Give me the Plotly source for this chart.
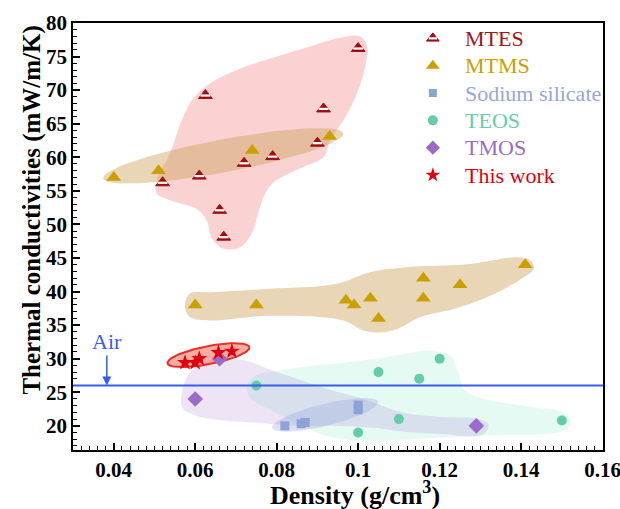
import numpy as np
import plotly.graph_objects as go

# ---------------- data ----------------
mtes_x = [0.100, 0.0625, 0.0915, 0.090, 0.079, 0.072, 0.061, 0.052, 0.066, 0.067]
mtes_y = [76.2, 69.2, 67.2, 62.1, 60.1, 59.1, 57.2, 56.2, 52.1, 48.1]

mtms_x = [0.040, 0.051, 0.074, 0.093, 0.060, 0.075, 0.097, 0.099, 0.103, 0.105, 0.116, 0.116, 0.125, 0.141]
mtms_y = [57.0, 58.0, 61.0, 63.1, 38.0, 38.0, 38.7, 38.0, 39.0, 36.0, 42.0, 39.0, 41.0, 44.0]

sod_x = [0.082, 0.086, 0.087, 0.100, 0.100]
sod_y = [20.0, 20.3, 20.5, 22.4, 23.1]

teos_x = [0.075, 0.100, 0.105, 0.115, 0.120, 0.110, 0.150]
teos_y = [26.0, 19.0, 28.0, 27.0, 30.0, 21.0, 20.8]

tmos_x = [0.060, 0.066, 0.129]
tmos_y = [24.0, 30.0, 20.0]

work_x = [0.0575, 0.060, 0.061, 0.0657, 0.069]
work_y = [29.4, 29.4, 30.0, 30.9, 31.1]

air_value = 26

series_names = ["MTES", "MTMS", "Sodium silicate", "TEOS", "TMOS", "This work"]
x_title = "<b>Density (g/cm<sup>3</sup>)</b>"
y_title = "<b>Thermal conductivities (mW/m/K)</b>"

# shaded regions (data coordinates)
pink_blob_x = [0.1005, 0.1022, 0.1017, 0.0997, 0.0964, 0.0931, 0.0915, 0.0866, 0.0800, 0.0776, 0.0759,
               0.0739, 0.0710, 0.0669, 0.0641, 0.0628, 0.0604, 0.0538, 0.0506, 0.0506, 0.0538, 0.0567,
               0.0592, 0.0629, 0.0702, 0.0800, 0.0882, 0.0948]
pink_blob_y = [78.0, 76.5, 73.5, 69.5, 65.5, 62.5, 60.0, 58.6, 56.6, 55.1, 52.6,
               48.7, 46.6, 46.4, 47.9, 50.6, 52.3, 53.6, 54.6, 56.6, 60.6, 65.5,
               68.5, 70.7, 73.0, 75.0, 76.5, 77.7]

tan_blob_x = [0.0575, 0.0587, 0.0637, 0.0784, 0.0948, 0.1030, 0.1112, 0.1275, 0.1390, 0.1423, 0.1431,
              0.1406, 0.1316, 0.1234, 0.1153, 0.1095, 0.1054, 0.1013, 0.0964, 0.0784, 0.0637, 0.0587]
tan_blob_y = [37.9, 39.7, 39.9, 40.4, 41.15, 42.9, 43.6, 44.1, 45.1, 44.6, 43.4,
              42.1, 39.15, 37.4, 36.2, 34.4, 33.9, 34.2, 35.7, 36.4, 35.7, 36.2]

teal_blob_x = [0.0727, 0.0747, 0.0833, 0.0956, 0.1044, 0.1116, 0.1185, 0.1226, 0.1246, 0.1261, 0.1317,
               0.1423, 0.1504, 0.1521, 0.1497, 0.1357, 0.1234, 0.1103, 0.1022, 0.0931, 0.0858, 0.0784, 0.0735]
teal_blob_y = [26.1, 27.44, 28.48, 29.37, 29.97, 30.72, 31.16, 30.42, 27.89, 25.35, 23.87,
               22.82, 21.93, 20.14, 19.1, 18.66, 18.36, 17.91, 17.76, 18.36, 20.14, 22.38, 24.16]

tmos_blob_x = [0.0565, 0.0580, 0.0619, 0.0678, 0.0735, 0.0784, 0.0858, 0.0931, 0.1005, 0.1054, 0.1111,
               0.1202, 0.1295, 0.1320, 0.1305, 0.1202, 0.1111, 0.1042, 0.0956, 0.0858, 0.0759, 0.0678,
               0.0605, 0.0570]
tmos_blob_y = [23.87, 27.29, 29.38, 30.12, 29.53, 28.34, 26.84, 25.35, 24.16, 23.12, 21.93,
               21.33, 21.04, 20.14, 18.66, 18.8, 19.1, 19.7, 19.99, 19.99, 20.44, 20.74,
               21.48, 22.53]

# ellipses: two end points (data) + half thickness (px)
tan_ellipse = ((0.0374, 56.86), (0.0964, 63.57), 16.5)
red_ellipse = ((0.0532, 29.33), (0.0733, 31.71), 9.0)
sod_ellipse = ((0.0789, 19.7), (0.1049, 23.57), 11.0)

X_RANGE = [0.03, 0.1601]
Y_RANGE = [16.4, 80]
PLOT_W, PLOT_H = 530, 427
SX = PLOT_W / (X_RANGE[1] - X_RANGE[0])
SY = PLOT_H / (Y_RANGE[1] - Y_RANGE[0])


def ellipse(spec, n=80):
    (x1, y1), (x2, y2), b = spec
    p1 = np.array([x1 * SX, y1 * SY])
    p2 = np.array([x2 * SX, y2 * SY])
    c = (p1 + p2) / 2
    d = p2 - p1
    a = np.hypot(*d) / 2
    ang = np.arctan2(d[1], d[0])
    t = np.linspace(0, 2 * np.pi, n)
    ex = a * np.cos(t)
    ey = b * np.sin(t)
    xs = c[0] + ex * np.cos(ang) - ey * np.sin(ang)
    ys = c[1] + ex * np.sin(ang) + ey * np.cos(ang)
    return xs / SX, ys / SY


def closed(xs, ys):
    return list(xs) + [xs[0]], list(ys) + [ys[0]]


FONT = "Liberation Serif, Times New Roman, serif"
C_MTES = "#9E0F14"
C_MTMS = "#C9A000"
C_SOD = "#8EA2D6"
C_TEOS = "#64CCA6"
C_TMOS = "#9B6BCB"
C_WORK = "#E0000F"
TEXT_COLORS = ["#A01818", "#C9A000", "#94A8DA", "#64CCA6", "#9B6BCB", "#E0000F"]

fig = go.Figure()


def blob(xs, ys, color, spline=True):
    xx, yy = closed(xs, ys)
    fig.add_trace(go.Scatter(x=xx, y=yy, mode="lines", fill="toself", fillcolor=color,
                             line=dict(width=0, shape="spline" if spline else "linear", smoothing=1.0),
                             hoverinfo="skip", showlegend=False))


blob(teal_blob_x, teal_blob_y, "rgba(120,232,195,0.20)")
blob(tmos_blob_x, tmos_blob_y, "rgba(185,150,220,0.26)")
ex, ey = ellipse(sod_ellipse)
blob(ex, ey, "rgba(140,160,215,0.30)", spline=False)
blob(pink_blob_x, pink_blob_y, "rgba(242,130,130,0.36)")
blob(tan_blob_x, tan_blob_y, "rgba(205,165,95,0.45)")
ex, ey = ellipse(tan_ellipse)
blob(ex, ey, "rgba(205,165,95,0.45)", spline=False)
ex, ey = ellipse(red_ellipse)
xx, yy = closed(ex, ey)
fig.add_trace(go.Scatter(x=xx, y=yy, mode="lines", fill="toself", fillcolor="rgba(240,105,80,0.55)",
                         line=dict(width=2, color="#E8302A"), hoverinfo="skip", showlegend=False))

# air line
fig.add_shape(type="line", xref="paper", yref="y", x0=0, x1=1, y0=air_value, y1=air_value,
              line=dict(color="#3A5BEF", width=2))
fig.add_annotation(x=0.0383, y=air_value, xref="x", yref="y", text="Air", showarrow=True,
                   arrowhead=2, arrowsize=1.2, arrowwidth=1.5, arrowcolor="#3A5BEF",
                   ax=0, ay=-44, font=dict(family=FONT, size=22, color="#3A5BEF"))

# markers
MTES_MARK = dict(symbol="triangle-up", size=12, color=C_MTES, line=dict(color=C_MTES, width=1))
MTES_BAND = dict(symbol="line-ew", size=7, line=dict(color="white", width=2.2))
marker_styles = [
    dict(symbol="triangle-up", size=13, color=C_MTMS),
    dict(symbol="square", size=9, color=C_SOD),
    dict(symbol="circle", size=10, color=C_TEOS),
    dict(symbol="diamond", size=12, color=C_TMOS),
    dict(symbol="star", size=12, color=C_WORK, line=dict(width=0)),
]
all_x = [mtms_x, sod_x, teos_x, tmos_x, work_x]
all_y = [mtms_y, sod_y, teos_y, tmos_y, work_y]

fig.add_trace(go.Scatter(x=mtes_x, y=mtes_y, mode="markers", name="MTES", marker=MTES_MARK, showlegend=False))
fig.add_trace(go.Scatter(x=mtes_x, y=mtes_y, mode="markers", showlegend=False, hoverinfo="skip", marker=MTES_BAND))
for nm, xs, ys, mk in zip(series_names[1:], all_x, all_y, marker_styles):
    fig.add_trace(go.Scatter(x=xs, y=ys, mode="markers", name=nm, marker=mk, showlegend=False))

# hand-placed legend (layout positions in paper space on an overlay axis pair)
LEG_X_MARK = 0.679
LEG_X_TEXT = 0.736
LEG_ROWS = [0.964, 0.900, 0.836, 0.772, 0.708, 0.644]
legend_marks = [dict(MTES_MARK, size=11)] + [dict(m) for m in marker_styles]
legend_marks[1]["size"] = 12
legend_marks[2]["size"] = 8
legend_marks[4]["size"] = 11
legend_marks[5]["size"] = 11
for i, mk in enumerate(legend_marks):
    fig.add_trace(go.Scatter(x=[LEG_X_MARK], y=[LEG_ROWS[i]], xaxis="x2", yaxis="y2", mode="markers",
                             marker=mk, showlegend=False, hoverinfo="skip"))
    fig.add_annotation(x=LEG_X_TEXT, y=LEG_ROWS[i], xref="paper", yref="paper", xanchor="left",
                       yanchor="middle", showarrow=False, text=series_names[i],
                       font=dict(family=FONT, size=22, color=TEXT_COLORS[i]))
fig.add_trace(go.Scatter(x=[LEG_X_MARK], y=[LEG_ROWS[0]], xaxis="x2", yaxis="y2", mode="markers",
                         marker=dict(MTES_BAND, size=6), showlegend=False, hoverinfo="skip"))

# axis titles
fig.add_annotation(x=0.532, y=-0.103, xref="paper", yref="paper", xanchor="center", yanchor="middle",
                   showarrow=False, text=x_title, font=dict(family=FONT, size=26, color="black"))
fig.add_annotation(x=-0.0774, y=0.563, xref="paper", yref="paper", xanchor="center", yanchor="middle",
                   showarrow=False, text=y_title, textangle=-90,
                   font=dict(family=FONT, size=25, color="black"))

tick_vals = [0.04, 0.06, 0.08, 0.1, 0.12, 0.14, 0.16]
tick_text = ["<b>%s</b>" % t for t in ["0.04", "0.06", "0.08", "0.1", "0.12", "0.14", "0.16"]]
y_vals = [20, 25, 30, 35, 40, 45, 50, 55, 60, 65, 70, 75, 80]
y_text = ["<b>%d</b>" % v for v in y_vals]

fig.update_layout(
    width=620, height=509,
    margin=dict(l=73, r=17, t=23, b=59, autoexpand=False),
    paper_bgcolor="white", plot_bgcolor="white",
    font=dict(family=FONT, color="black"),
    showlegend=False,
    xaxis=dict(range=X_RANGE, tickvals=tick_vals, ticktext=tick_text, showgrid=False, zeroline=False,
               automargin=False,
               ticks="inside", ticklen=7, tickwidth=1.5, tickcolor="black", ticklabeloverflow="allow",
               minor=dict(dtick=0.002, tick0=0.0, ticks="inside", ticklen=4, tickwidth=1, tickcolor="black"),
               showline=True, linecolor="black", linewidth=1.5, mirror=True,
               tickfont=dict(family=FONT, size=21, color="black")),
    yaxis=dict(range=Y_RANGE, tickvals=y_vals, ticktext=y_text, showgrid=False, zeroline=False,
               automargin=False,
               ticks="inside", ticklen=7, tickwidth=1.5, tickcolor="black",
               minor=dict(dtick=1, tick0=0, ticks="inside", ticklen=4, tickwidth=1, tickcolor="black"),
               showline=True, linecolor="black", linewidth=1.5, mirror=True,
               tickfont=dict(family=FONT, size=21, color="black")),
    xaxis2=dict(overlaying="x", range=[0, 1], visible=False, anchor="y2", automargin=False),
    yaxis2=dict(overlaying="y", range=[0, 1], visible=False, anchor="x2", automargin=False),
)

fig.write_html("out.html")
